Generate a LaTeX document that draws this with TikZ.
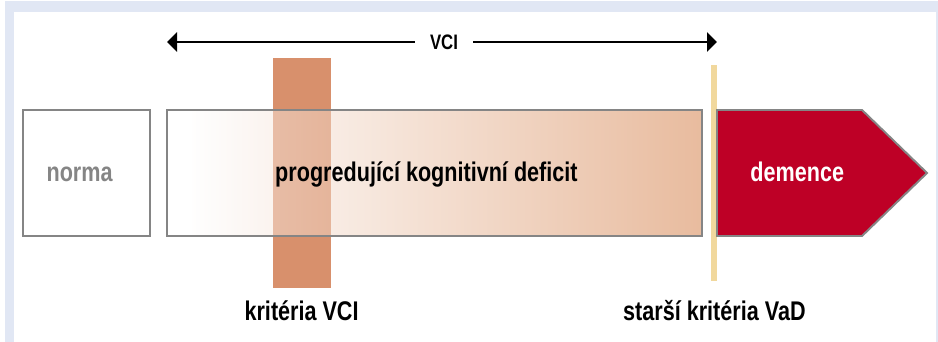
\documentclass[tikz,border=0pt]{standalone}
\usepackage{fontspec}
\setmainfont{Liberation Sans}[FakeStretch=0.8]
\usetikzlibrary{arrows.meta,positioning}
\definecolor{FrameBlue}{HTML}{E1E7F4}
\definecolor{BoxGray}{HTML}{858585}
\definecolor{VciSalmon}{HTML}{D8906C}
\definecolor{DeficitPeach}{HTML}{D3793F}
\definecolor{VadYellow}{HTML}{F1D89D}
\definecolor{DemRed}{HTML}{BE0026}

\begin{document}
\begin{tikzpicture}[
  >={Triangle[length=0.25cm,width=0.48cm]},
  % stage boxes on the scale
  stagebox/.style={draw=BoxGray, line width=1.4pt,
                   minimum height=3.15cm, inner sep=0pt},
  % bold label text
  big/.style={font=\fontsize{19.2}{23}\selectfont\bfseries,
              inner sep=0pt, anchor=base},
  % criteria label under the scale
  crit/.style={big},
]
\useasboundingbox (0,0) rectangle (23.45,8.55);

% ── Rows ──────────────────────────────────────────────
\def\yM{4.225}   % centre of the boxes
\def\yT{4.0}     % text baseline in the boxes
\def\yA{7.5}     % VCI arrow
\def\yC{0.53}    % criteria baseline

%% ── Frame ────────────────────────────────────────────
\fill[FrameBlue] (0.125,0) rectangle (23.45,8.525);
\fill[white] (0.35,0) rectangle (23.4,8.25);

%% ── VCI criteria bar ─────────────────────────────────
\fill[VciSalmon] (6.825,1.35) rectangle (8.275,7.1);

%% ── Boxes ────────────────────────────────────────────
\node[stagebox, minimum width=3.175cm] (norma) at (2.1625,\yM) {};
\node[big, text=BoxGray] (normatxt) at (1.99,\yT) {norma};

\shade[left color=white, right color=DeficitPeach, fill opacity=0.5]
  (4.75,2.65) rectangle (17.55,5.8);
\node[stagebox, minimum width=13.375cm] (prog) at (10.8625,\yM) {};
\node[big] (progtxt) at (10.66,\yT) {progredující kognitivní deficit};

%% ── Older VaD criteria line ──────────────────────────
\coordinate (vadtop) at (17.85,6.925);
\coordinate (vadbot) at (17.85,1.525);
\draw[VadYellow, line width=0.15cm] (vadbot) -- (vadtop);

%% ── Dementia arrow shape ─────────────────────────────
\coordinate (dem0) at (17.925,2.65);
\draw[BoxGray, line width=1.4pt, fill=DemRed, line join=miter]
  (dem0) -- ++(0,3.15) -- ++(3.625,0) -- ++(1.625,-1.575)
  -- ++(-1.625,-1.575) -- cycle;
\node[big, text=white] (dem) at (19.93,\yT) {demence};

%% ── VCI span ─────────────────────────────────────────
\coordinate (vcil) at (4.175,\yA);
\coordinate (vcir) at (17.925,\yA);
\draw[<->, line width=1.4pt] (vcil) -- (vcir);
\node[fill=white, font=\fontsize{14.9}{18}\selectfont\bfseries,
      inner xsep=0.37cm, inner ysep=2pt] (vci) at (11.1,\yA) {VCI};

%% ── Criteria labels ──────────────────────────────────
\node[crit] (kvci) at (7.54,\yC) {kritéria VCI};
\node[crit] (kvad) at (17.86,\yC) {starší kritéria VaD};

\end{tikzpicture}
\end{document}
